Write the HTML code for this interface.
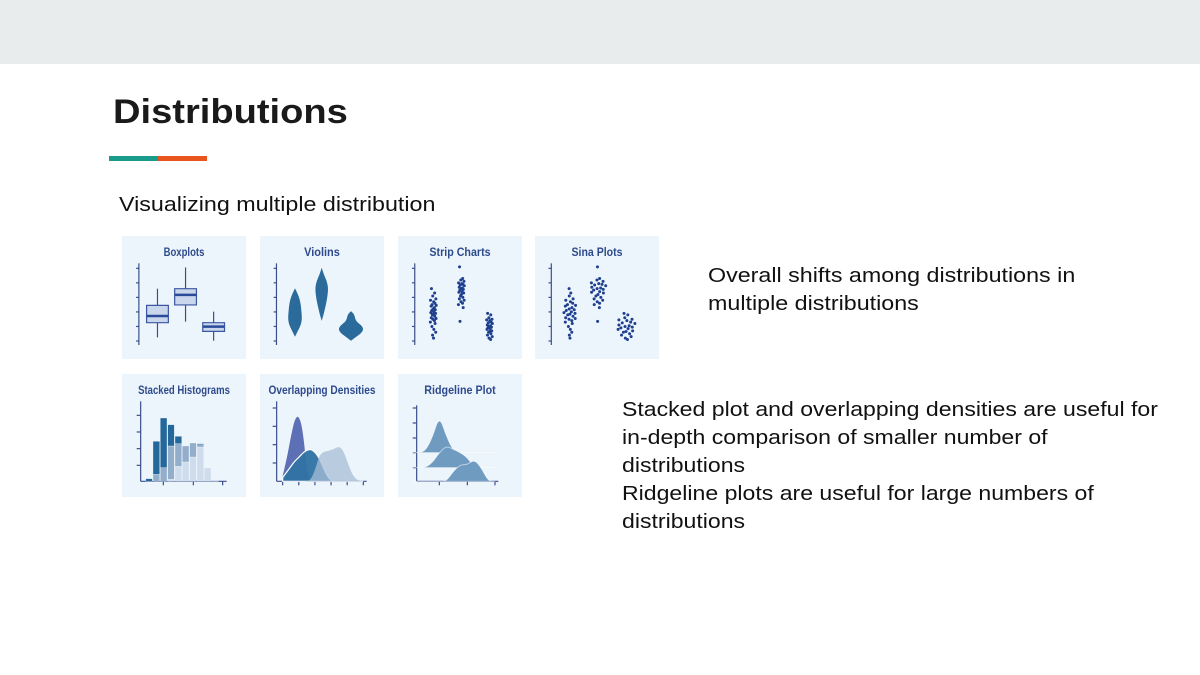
<!DOCTYPE html>
<html><head><meta charset="utf-8"><style>
body{margin:0;width:1200px;height:675px;background:#fff;overflow:hidden;position:relative;font-family:"Liberation Sans",sans-serif}
.t{position:absolute;white-space:nowrap;color:#111;transform-origin:0 0}
</style></head><body>
<div style="position:absolute;left:0;top:0;width:1200px;height:64px;background:#e8eced"></div>
<div class="t" style="left:113px;top:93px;font-size:34px;font-weight:bold;color:#1a1a1a;transform:scaleX(1.12)">Distributions</div>
<div style="position:absolute;left:109px;top:156px;width:49px;height:5px;background:#1a9a8a"></div>
<div style="position:absolute;left:158px;top:156px;width:49px;height:5px;background:#e8561e"></div>
<div class="t" style="left:119px;top:193px;font-size:20.5px;transform:scaleX(1.135)">Visualizing multiple distribution</div>
<div class="t" style="left:708px;top:262px;font-size:20.5px;line-height:28px;transform:scaleX(1.135)">Overall shifts among distributions in<br>multiple distributions</div>
<div class="t" style="left:622px;top:396px;font-size:20.5px;line-height:28px;transform:scaleX(1.125)">Stacked plot and overlapping densities are useful for<br>in-depth comparison of smaller number of<br>distributions<br>Ridgeline plots are useful for large numbers of<br>distributions</div>
<svg id="s" width="1200" height="675" style="position:absolute;left:0;top:0" xmlns="http://www.w3.org/2000/svg"></svg>
<script>
const boxQ1=[1.26,2.48,0.66], boxQ3=[2.45,3.6,1.26], boxMed=[1.72,3.17,0.99], boxMin=[0.25,1.33,0.02], boxMax=[3.6,5.06,2.02];
const violinLo=[0.31,1.4,0.04], violinHi=[3.63,5.05,2.07];
const violinW1=[0,3,6,7,6.5,6,5,3,0];
const violinW2=[0,2,3.5,5,6,6.5,5,2,0];
const violinW3=[0,5,10,12.5,11,6,4,3.5,0];
const grp1=[3.6,3.3,3.1,2.9,2.8,2.7,2.6,2.5,2.45,2.4,2.3,2.2,2.15,2.1,2.0,1.95,1.9,1.85,1.8,1.7,1.6,1.55,1.5,1.4,1.3,1.2,1.0,0.8,0.6,0.4,0.2];
const grp2=[5.1,4.3,4.2,4.1,4.0,3.95,3.9,3.85,3.8,3.7,3.65,3.6,3.55,3.5,3.4,3.35,3.3,3.2,3.1,3.0,2.9,2.8,2.7,2.6,2.5,2.3,1.35];
const grp3=[1.9,1.8,1.6,1.5,1.45,1.4,1.3,1.25,1.2,1.1,1.05,1.0,0.95,0.9,0.85,0.8,0.7,0.65,0.6,0.5,0.4,0.3,0.2,0.1];
const jitter=[-0.6,0.4,-0.2,0.8,-0.9,0.1,0.5,-0.4,0.9,-0.7,0.3,-0.1,0.6,-0.5,0.2,-0.8,0.7,0,-0.3,0.45,-0.65,0.85,-0.15,0.35,-0.95,0.55,-0.45,0.15,0.75,-0.25,0.05];
const histLight=[0,0,0,0.12,0.9,1.16,1.46,2.06,0.8,0.1];
const histMedium=[0,0.42,0.82,2.0,1.36,0.96,0.84,0.14,0,0];
const histDark=[0.16,1.98,2.98,1.28,0.44,0,0,0.06,0,0];
const dens1=[0.3,1.2,2.4,3.4,3.6,2.8,0.6,0,0,0,0,0,0,0,0,0,0,0,0,0,0];
const dens2=[0.2,0.5,0.8,1.1,1.3,1.55,1.7,1.75,1.6,1.3,0.8,0.3,0.05,0,0,0,0,0,0,0,0];
const dens3=[0,0,0,0,0,0,0,0.1,0.6,1.35,1.6,1.65,1.7,1.8,1.9,1.7,1.1,0.5,0.15,0.03,0];
const ridge1=[0,0,0.11,1.0,2.45,1.1,0.11,0,0,0,0,0,0];
const ridge2=[0,0,0,0.33,1.0,1.45,1.22,1.0,0.67,0,0,0,0];
const ridge3=[0,0,0,0,0,0,0.67,1.11,1.11,1.45,0.9,0,0];
const titles=["Boxplots","Violins","Strip Charts","Sina Plots","Stacked Histograms","Overlapping Densities","Ridgeline Plot"];

const NS="http://www.w3.org/2000/svg", S=document.getElementById('s');
function mk(tag,attrs,parent){const e=document.createElementNS(NS,tag);for(const k in attrs)e.setAttribute(k,attrs[k]);(parent||S).appendChild(e);return e;}
const AX="#3a4f8a";
const px=[122,260,398,535], rowY=[236,374];
titles.forEach((t,i)=>{const r=i<4?0:1,c=i<4?i:i-4;
 const p=mk('rect',{x:px[c],y:rowY[r],width:124,height:123,fill:'#edf5fc'});
 
 
 const tx=mk('text',{x:px[c]+62,y:rowY[r]+20,'text-anchor':'middle','font-size':'11.5','font-family':'"Liberation Sans Narrow","Liberation Sans",sans-serif',fill:'#2d4a8c','font-weight':'bold','textLength':t.length*5.1,'lengthAdjust':'spacingAndGlyphs'});
 tx.textContent=t;
 
 
});
const G1=mk('g',{transform:'translate(115,230) scale(0.351,0.3333)'});
const G2=mk('g',{transform:'translate(120,372) scale(0.3333)'});
const G3=mk('g',{transform:'translate(395,372) scale(0.3333)'});
const ns={'vector-effect':'non-scaling-stroke'};
function line(g,x1,y1,x2,y2,w){return mk('line',Object.assign({x1,y1,x2,y2,stroke:AX,'stroke-width':w||1.2},ns),g);}
const yv=v=>333-43.6*v;
const offs=[0,392,786,1175], centers=[121,201,281];
offs.forEach(o=>{line(G1,o+68,100,o+68,345);for(let v=0;v<=5;v++)line(G1,o+60,yv(v),o+68,yv(v));});
for(let i=0;i<3;i++){const c=centers[i];
 line(G1,c,yv(boxMin[i]),c,yv(boxMax[i]));
 const b=mk('rect',Object.assign({x:c-31,y:yv(boxQ3[i]),width:62,height:yv(boxQ1[i])-yv(boxQ3[i]),fill:'#c9d6ec',stroke:'#3a56a0','stroke-width':1.2},ns),G1);
 
 
 line(G1,c-31,yv(boxMed[i]),c+31,yv(boxMed[i]),2.5).setAttribute('stroke','#2a4a9a');
}
function smooth(pts){let s='M'+pts[0].join(',');for(let i=1;i<pts.length-1;i++){const mx=(pts[i][0]+pts[i+1][0])/2,my=(pts[i][1]+pts[i+1][1])/2;s+='Q'+pts[i].join(',')+' '+mx+','+my;}s+='L'+pts[pts.length-1].join(',');return s;}
const vy=v=>341.3-14.6*v, vc=[295,321.7,351];
[violinW1,violinW2,violinW3].forEach((w,i)=>{const n=w.length-1;
 const R=w.map((h,k)=>[vc[i]+h,vy(violinLo[i]+(violinHi[i]-violinLo[i])*k/n)]);
 const L=w.map((h,k)=>[vc[i]-h,vy(violinLo[i]+(violinHi[i]-violinLo[i])*k/n)]).reverse();
 const p=mk('path',{d:smooth(R.concat(L))+'Z',fill:'#2a6b9c'});
 
 
});
const groups=[grp1,grp2,grp3];
function dens(d,v){const h=0.3;let s=0;d.forEach(x=>{s+=Math.exp(-0.5*((v-x)/h)**2);});return s/(d.length*h*2.5066);}
const K=45;
groups.forEach((d,i)=>{d.forEach((v,j)=>{const jt=jitter[j%jitter.length];
 const a=mk('ellipse',{cx:786+centers[i]+jt*9,cy:yv(v),rx:4.3,ry:4.5,fill:'#1f3f8f'},G1);
 
 
 const b=mk('ellipse',{cx:1175+centers[i]+jt*dens(d,v)*K,cy:yv(v),rx:4.3,ry:4.5,fill:'#1f3f8f'},G1);
 
 
});});
line(G2,62,88,62,328);line(G2,62,328,320,328);
[280,230,180,130].forEach(y=>line(G2,50,y,62,y));[130,220,308].forEach(x=>line(G2,x,328,x,340));
histLight.forEach((l,i)=>{let base=0;const x=77+i*22;
 [[l,'#cfdcec'],[histMedium[i],'#93aecb'],[histDark[i],'#24679a']].forEach(([h,col])=>{if(h<=0)return;
  const r=mk('rect',{x,y:328-(base+h)*50,width:20,height:h*50,fill:col,stroke:'#edf5fc','stroke-width':1},G2);
  
  
  base+=h;});
});
line(G2,470,88,470,328);line(G2,470,328,740,328);
[108,163,218,273].forEach(y=>line(G2,458,y,470,y));
for(let t=0;t<=5;t++)line(G2,488+48.4*t,328,488+48.4*t,340);
[[dens1,'#5d6fb5',1,'none'],[dens2,'#2f72a3',0.95,'#ffffff'],[dens3,'#a7bdd6',0.75,'none']].forEach(([d,col,op,st],k)=>{
 const pts=d.map((h,i)=>[488+48.4*i*0.25,328-h*55]);
 const p=mk('path',{d:smooth(pts)+'L730,328L488,328Z',fill:col,'fill-opacity':op,stroke:st,'stroke-width':1.2,'vector-effect':'non-scaling-stroke'},G2);
 
 
});
line(G3,65,100,65,328);line(G3,65,328,310,328);
[108,153,198,242,287].forEach(y=>line(G3,53,y,65,y));
[133,217,300].forEach(x=>line(G3,x,328,x,340));
[[ridge1,242],[ridge2,287],[ridge3,328]].forEach(([d,b],k)=>{
 const pts=d.map((h,i)=>[49+84*i*0.25,b-h*45]);
 const p=mk('path',{d:smooth(pts)+'L301,'+b+'L49,'+b+'Z',fill:'#6e9bbf',stroke:'#ffffff','stroke-opacity':0.6,'stroke-width':0.8,'vector-effect':'non-scaling-stroke'},G3);
 
 
});
</script>
</body></html>
